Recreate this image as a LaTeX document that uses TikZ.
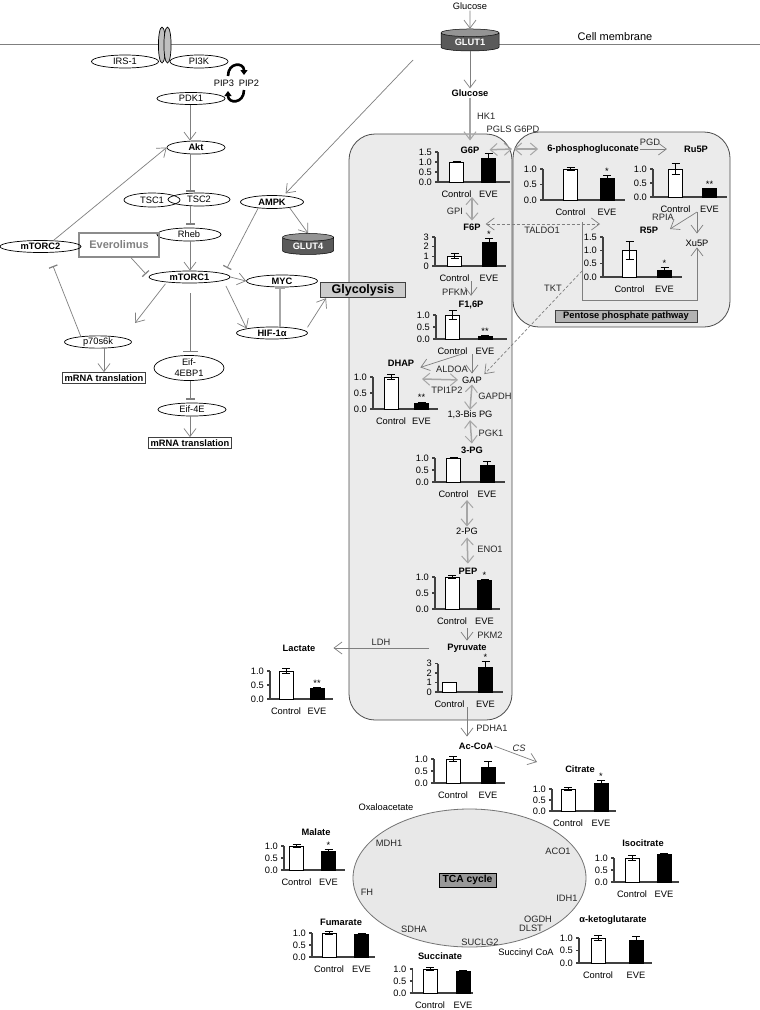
\documentclass[tikz,border=0pt]{standalone}
\usepackage{fontspec}
\setmainfont{Liberation Sans}
\usetikzlibrary{arrows.meta,shapes.geometric}

\definecolor{conn}{HTML}{7F7F7F}
\definecolor{thkc}{HTML}{A6A6A6}
\definecolor{panelc}{HTML}{EBEBEB}
\definecolor{axisc}{HTML}{404040}
\definecolor{glutc}{HTML}{5A5A5A}

\def\tA{0/0.0,0.5/0.5,1/1.0}
\def\tB{0/0.0,0.5/0.5,1/1.0,1.5/1.5}
\def\tC{0/0,1/1,2/2,3/3}

% bar chart: name, origin, axis length, px per unit, top, ticks, control x/v/e, EVE x/v/e, stars
\newcommand{\metchart}[9]{%
  \begin{scope}[shift={(#2)}]
    \draw[axisln] (0,{-#5*#4}) -- (0,0) -- (#3,0);
    \foreach \v/\t [count=\i] in #6 {
      \draw[axisln] (-3,{-\v*#4}) -- (0,{-\v*#4});
      \node[ticklab] (#1-t\i) at (-6,{-\v*#4}) {\t};
    }
    \foreach \x/\v/\e in {#7} {
      \draw[cbar] ({\x-7},0) rectangle ({\x+7},{-\v*#4});
      \draw[errbar] (\x,{-(\v-\e)*#4}) -- (\x,{-(\v+\e)*#4})
        ({\x-4},{-(\v+\e)*#4}) -- ({\x+4},{-(\v+\e)*#4})
        ({\x-4},{-(\v-\e)*#4}) -- ({\x+4},{-(\v-\e)*#4});
      \node[xlab] (#1-c) at (\x,15) {Control};
    }
    \foreach \x/\v/\e in {#8} {
      \draw[ebar] ({\x-7},0) rectangle ({\x+7},{-\v*#4});
      \draw[errbar] (\x,{-(\v-\e)*#4}) -- (\x,{-(\v+\e)*#4})
        ({\x-4},{-(\v+\e)*#4}) -- ({\x+4},{-(\v+\e)*#4});
      \node[xlab] (#1-e) at (\x,15) {EVE};
      \node[starlab] (#1-s) at (\x,{-(\v+\e)*#4-1}) {#9};
    }
  \end{scope}}

\begin{document}
\begin{tikzpicture}[x=1pt,y=-1pt,
  every node/.style={font=\fontsize{9.3}{11}\selectfont, inner sep=1pt},
  ell/.style={ellipse, draw=black, line width=0.7pt, inner sep=0pt, minimum height=13pt},
  ellb/.style={ell, font=\fontsize{9.3}{11}\selectfont\bfseries},
  met/.style={font=\fontsize{9.3}{11}\selectfont\bfseries},
  enz/.style={text=black!85},
  txt/.style={},
  box/.style={draw=black!75, line width=0.9pt, font=\fontsize{9.3}{11}\selectfont\bfseries, inner sep=2pt},
  glut/.style={cylinder, shape border rotate=90, aspect=0.25, draw=black, line width=0.5pt,
    cylinder uses custom fill, cylinder body fill=glutc, cylinder end fill=glutc!65!white,
    text=white, font=\fontsize{9.3}{11}\selectfont\bfseries, inner sep=0pt},
  arr/.style={draw=conn, line width=0.7pt, -{Straight Barb[length=8pt,width=12pt]}},
  inh/.style={draw=conn, line width=0.7pt, -{Bar[width=9pt,line width=1.2pt]}},
  thk/.style={draw=thkc, line width=1.5pt, -{Straight Barb[length=8pt,width=12pt,line width=1pt]}},
  dbl/.style={draw=thkc, line width=1.5pt, {Straight Barb[length=7pt,width=12pt,line width=1pt]}-{Straight Barb[length=7pt,width=12pt,line width=1pt]}},
  dsh/.style={draw=conn, line width=0.7pt, dash pattern=on 3pt off 2pt},
  pan/.style={draw=black!70, fill=panelc, line width=0.8pt, rounded corners=26pt},
  axisln/.style={draw=axisc, line width=1.4pt},
  cbar/.style={draw=black, fill=white, line width=0.9pt},
  ebar/.style={draw=black, fill=black, line width=0.9pt},
  errbar/.style={draw=black, line width=0.9pt},
  ticklab/.style={anchor=east, inner sep=0pt},
  xlab/.style={anchor=base, inner sep=0pt},
  starlab/.style={anchor=base, inner sep=0pt}]

  %%%%% FRAME %%%%%
  \fill[white] (0,0) rectangle (760,1010);
  \useasboundingbox (0,0) rectangle (760,1010);

  \draw[conn, line width=0.9pt] (0,44) -- (760,44);
  \node[font=\fontsize{11}{13}\selectfont] (cellm) at (615,37) {Cell membrane};

  %%%%% PANELS %%%%%
  \draw[pan] (349,134) rectangle (512,720);
  \draw[pan] (513,132) rectangle (730,327);
  \node[ellipse, draw=black!55, fill=black!9, line width=0.8pt, minimum width=233pt, minimum height=138pt] (tca) at (469.5,878) {};

  %%%%% SIGNALLING %%%%%
  \draw[fill=black!25, line width=0.7pt] (162,45) ellipse (3.6pt and 18pt);
  \draw[fill=black!25, line width=0.7pt] (167.5,45) ellipse (3.6pt and 18pt);
  \node[ell, minimum width=67pt] (irs) at (125,61.5) {IRS-1};
  \node[ell, minimum width=58pt] (pi3k) at (199,61.5) {PI3K};
  \node[txt] (pip3) at (224,83) {PIP3};
  \node[txt] (pip2) at (249,83) {PIP2};
  \draw[line width=2.6pt, -{Triangle[length=5pt,width=7pt]}] (228,76) .. controls (228,62) and (244,62) .. (244,75);
  \draw[line width=2.6pt, -{Triangle[length=5pt,width=7pt]}] (244,90) .. controls (244,104) and (228,104) .. (228,91);
  \node[ell, minimum width=68pt, minimum height=12pt] (pdk1) at (191,98.5) {PDK1};
  \node[ellb, minimum width=58pt] (akt) at (196,147.5) {Akt};
  \node[ell, minimum width=56pt, minimum height=14pt] (tsc1) at (152,200) {TSC1};
  \node[ell, minimum width=62pt] (tsc2) at (199,199.5) {TSC2};
  \node[ell, minimum width=64pt] (rheb) at (189,234.5) {Rheb};
  \node[ellb, minimum width=63pt] (ampk) at (272,202) {AMPK};
  \node[glut, minimum width=51pt, minimum height=21pt] (glut4) at (308,246) {GLUT4};
  \node[draw=black!45, line width=1.4pt, text=black!50, font=\fontsize{11}{13}\selectfont\bfseries,
    minimum width=80pt, minimum height=24pt] (evero) at (119,245) {Everolimus};
  \node[ellb, minimum width=81pt, minimum height=12pt] (mtorc2) at (40.5,246.5) {mTORC2};
  \node[ellb, minimum width=81pt, minimum height=12pt] (mtorc1) at (189.5,277) {mTORC1};
  \node[ellb, minimum width=71pt, minimum height=12pt] (myc) at (282,281) {MYC};
  \node[box, fill=black!20, font=\fontsize{12.5}{14}\selectfont\bfseries, minimum width=85pt,
    minimum height=15.5pt, inner sep=0pt] (glyc) at (363,290) {Glycolysis};
  \node[ellb, minimum width=71pt, minimum height=12pt] (hif) at (272,333) {HIF-1α};
  \node[ell, minimum width=67pt, minimum height=11pt] (p70) at (98,342) {p70s6k};
  \node[box] (mrna1) at (104,378) {mRNA translation};
  \node[ell, minimum width=70pt, minimum height=24pt, align=center] (eif4ebp) at (189,368) {Eif-\\4EBP1};
  \node[ell, minimum width=68pt] (eif4e) at (192,409.5) {Eif-4E};
  \node[box] (mrna2) at (190,443) {mRNA translation};

  \coordinate (spine) at (190,0);
  \coordinate (sig) at (413,60);
  \coordinate (ampkT) at (227,268);
  \coordinate (p70T) at (135,323);
  \coordinate (mtorc2T) at (53,266);

  \draw[arr] (pdk1.south -| spine) -- (akt.north -| spine);
  \draw[inh, shorten >=1] (akt.south -| spine) -- (tsc2.north -| spine);
  \draw[inh, shorten >=3] (tsc2.south -| spine) -- (rheb.north -| spine);
  \draw[arr] (rheb.south -| spine) -- (mtorc1.north -| spine);
  \draw[inh, shorten >=4] ([xshift=12]evero.south) -- (mtorc1.west);
  \draw[inh] (ampk.204) -- (ampkT);
  \draw[arr] (ampk.-18) -- (glut4.north);
  \draw[arr] (mtorc1.east) -- (myc.west);
  \draw[arr, shorten <=6] (mtorc1.-6) -- (hif.170);
  \draw[draw=thkc, line width=1.6pt, -{Bar[width=10pt,line width=1.6pt]}] ([xshift=8]hif.north) -- ([xshift=-2]myc.south);
  \draw[arr, shorten <=4] (hif.4) -- ([xshift=6]glyc.south west);
  \draw[arr, shorten <=2] (mtorc1.193) -- (p70T);
  \draw[inh] (p70.162) -- (mtorc2T);
  \draw[arr] (mrna1.north |- p70.south) -- (mrna1.north);
  \draw[draw=conn, line width=0.7pt, -{Bar[width=15pt,line width=1.4pt]}, shorten <=10, shorten >=3] (mtorc1.south -| spine) -- (eif4ebp.north -| spine);
  \draw[inh, shorten >=3] (eif4ebp.south -| spine) -- (eif4e.north -| spine);
  \draw[arr] (eif4e.south -| spine) -- (mrna2.north -| spine);
  \draw[arr] (mtorc2.25) -- (akt.west);
  \draw[arr, shorten >=3] (sig) -- (ampk.29);

  %%%%% GLUCOSE ENTRY %%%%%
  \node[txt] (glcout) at (470,6) {Glucose};
  \node[glut, minimum width=58pt, minimum height=22pt] (glut1) at (470,42) {GLUT1};
  \node[met] (glc) at (470,93) {Glucose};
  \draw[arr] (glcout.south) -- (glut1.north);
  \draw[arr] (glut1.south) -- (glc.north);
  \node[enz, anchor=west] (hk1) at (476,116) {HK1};

  %%%%% GLYCOLYSIS %%%%%
  \node[met] (g6p) at (470,150) {G6P};
  \draw[thk, shorten >=5] (glc.south) -- (g6p.north);
  \metchart{g6pc}{438,182}{72}{20}{1.5}{\tB}{18.5/1.0/0.03}{50.5/1.17/0.27}{}
  \node[enz] (gpi) at (455,211) {GPI};
  \node[met] (f6p) at (472,227) {F6P};
  \draw[dbl, shorten >=2] (f6p.north |- g6pc-e.base) -- (f6p.north);
  \metchart{f6pc}{435,266}{71}{9.7}{3}{\tC}{19.5/1.0/0.25}{54/2.4/0.45}{*}
  \node[enz] (pfkm) at (455,292) {PFKM};
  \node[met] (f16p) at (471,305) {F1,6P};
  \draw[arr, shorten >=4] (f16p.north |- f6pc-e.base) -- (f16p.north);
  \metchart{f16pc}{436,339}{71}{24}{1}{\tA}{16.5/1.0/0.2}{49/0.1/0.03}{**}
  \node[txt] (gap) at (472,380) {GAP};
  \node[enz] (aldoa) at (452,369) {ALDOA};
  \node[met] (dhap) at (401,363) {DHAP};
  \draw[arr, shorten >=2] (gap.north |- f16pc-e.base) -- (gap.north);
  \draw[arr] ([xshift=-10]gap.north |- f16pc-e.base) -- ([xshift=5]dhap.south east);
  \metchart{dhapc}{373,409}{65}{32}{1}{\tA}{18/1.0/0.07}{48.5/0.17/0.05}{**}
  \coordinate (tpiA) at (422,379);
  \draw[dbl, shorten >=3] (tpiA) -- (gap.west);
  \node[enz] (tpi) at (447,390) {TPI1P2};
  \node[txt] (bpg) at (470,415) {1,3-Bis PG};
  \draw[dbl] (gap.south) -- (bpg.north);
  \node[enz] (gapdh) at (495,396) {GAPDH};
  \node[met] (pg3) at (472,450) {3-PG};
  \draw[dbl, shorten >=2] (bpg.south) -- (pg3.north);
  \node[enz] (pgk1) at (491,433) {PGK1};
  \metchart{pg3c}{435,482}{70}{24}{1}{\tA}{18.5/1.0/0.03}{52/0.7/0.17}{}
  \node[txt] (pg2) at (467,531) {2-PG};
  \draw[dbl, shorten <=3] (pg2.north |- pg3c-e.base) -- (pg2.north);
  \node[met] (pep) at (468,571) {PEP};
  \draw[dbl, shorten <=2, shorten >=3] (pg2.south) -- (pep.north);
  \node[enz] (eno1) at (490,549) {ENO1};
  \metchart{pepc}{435,609}{65}{32}{1}{\tA}{17/1.0/0.05}{49.5/0.88/0.03}{*}
  \node[enz] (pkm2) at (490,635) {PKM2};
  \node[met] (pyr) at (467,648) {Pyruvate};
  \draw[arr, shorten <=4, shorten >=2] (pyr.north |- pepc-e.base) -- (pyr.north);
  \metchart{pyrc}{438,692}{65}{9.5}{3}{\tC}{11.5/1.0/0.03}{47.5/2.6/0.6}{*}
  \node[met] (lac) at (299,648) {Lactate};
  \node[enz] (ldh) at (381,642) {LDH};
  \draw[arr, shorten <=17, shorten >=17] (pyr.west) -- (lac.east);
  \metchart{lacc}{270,699}{63}{28}{1}{\tA}{16/1.0/0.1}{47/0.38/0.03}{**}

  %%%%% PENTOSE PHOSPHATE %%%%%
  \coordinate (pinch) at (513,149);
  \node[enz] (pgls) at (513,129) {PGLS G6PD};
  \node[met] (pg6) at (593,149) {6-phosphogluconate};
  \draw[dbl, shorten <=9, shorten >=1] (g6p.east) -- (pinch);
  \draw[dbl, shorten <=1, shorten >=8] (pinch) -- (pg6.west);
  \node[met] (ru5p) at (696,149) {Ru5P};
  \node[enz] (pgd) at (650,142) {PGD};
  \draw[arr, shorten >=16] (pg6.east) -- (ru5p.west);
  \metchart{pg6c}{543,200}{82}{31}{1}{\tA}{27.5/1.0/0.05}{64/0.71/0.08}{*}
  \metchart{ru5pc}{653,197}{74}{28}{1}{\tA}{22.5/1.0/0.2}{56.5/0.3/0.01}{**}
  \coordinate (ru5pout) at (697,212);
  \coordinate (rpiaT) at (670,229);
  \node[met] (r5p) at (649,230) {R5P};
  \node[txt] (xu5p) at (697,243) {Xu5P};
  \node[enz] (rpia) at (663,217) {RPIA};
  \draw[arr] (ru5pout) -- (rpiaT);
  \draw[arr, shorten >=5] (ru5pout) -- (xu5p.north);
  \metchart{r5pc}{603,277}{79}{26.7}{1.5}{\tB}{26.5/1.0/0.35}{61.5/0.25/0.1}{*}
  \coordinate (brTop) at (582,222);
  \coordinate (brBot) at (582,300);
  \coordinate (taldoT) at (600,224);
  \coordinate (tktS) at (582,271);
  \draw[arr] (brTop) -- (brBot) -| (xu5p.south);
  \draw[dsh, {Straight Barb[length=8pt,width=12pt]}-{Straight Barb[length=8pt,width=12pt]}, shorten <=4] (f6p.east |- taldoT) -- (taldoT);
  \node[enz] (taldo) at (542,230) {TALDO1};
  \draw[dsh, -{Straight Barb[length=8pt,width=12pt]}, shorten >=2] (tktS) -- (gap.north east);
  \node[enz] (tkt) at (553,288) {TKT};
  \node[box, fill=black!30, minimum width=142pt, minimum height=12pt, inner sep=0pt] (ppp) at (626,316.5) {Pentose phosphate pathway};

  %%%%% TCA CYCLE %%%%%
  \node[met] (acoa) at (476,746) {Ac-CoA};
  \node[enz] (pdha1) at (492,728) {PDHA1};
  \draw[arr, shorten >=5] (pyrc-e.base -| pyr.south) -- (acoa.north -| pyr.south);
  \metchart{acoac}{434,783}{71}{24}{1}{\tA}{19/1.0/0.1}{54/0.63/0.25}{}
  \node[met] (cit) at (580,769) {Citrate};
  \coordinate (csT) at (537,762);
  \draw[arr] (acoa.east) -- (csT);
  \node[enz, font=\fontsize{9.3}{11}\selectfont\itshape] (cs) at (519,748) {CS};
  \metchart{citc}{552,811}{64}{22}{1}{\tA}{16/1.0/0.07}{49/1.27/0.1}{*}

  \node[box, fill=black!40, draw=black, font=\fontsize{10.3}{12}\selectfont\bfseries, minimum width=57pt,
    minimum height=14pt, inner sep=0pt] (tcab) at (467.5,880) {TCA cycle};
  \node[txt] (oaa) at (386,807) {Oxaloacetate};
  \node[txt] (succoa) at (526,953) {Succinyl CoA};
  \node[enz] (mdh1) at (389,843) {MDH1};
  \node[enz] (aco1) at (558,851) {ACO1};
  \node[enz] (fh) at (367,892) {FH};
  \node[enz] (idh1) at (567,898) {IDH1};
  \node[enz] (sdha) at (414,929) {SDHA};
  \node[enz] (ogdh) at (538,919) {OGDH};
  \node[enz] (dlst) at (531,928) {DLST};
  \node[enz] (suclg2) at (480,942) {SUCLG2};

  \node[met] (mal) at (316,832) {Malate};
  \metchart{malc}{284,870}{61}{24}{1}{\tA}{12.5/1.0/0.05}{44.5/0.79/0.06}{*}
  \node[met] (icit) at (643,843) {Isocitrate};
  \metchart{icitc}{614,882}{65}{24}{1}{\tA}{18/1.0/0.1}{50/1.14/0.03}{}
  \node[met] (fum) at (341,922) {Fumarate};
  \metchart{fumc}{312,957}{63}{24}{1}{\tA}{17/1.0/0.05}{49.5/0.96/0.02}{}
  \node[met] (succ) at (440,956) {Succinate};
  \metchart{succc}{412.5,993}{60}{24}{1}{\tA}{17.5/1.0/0.06}{50.5/0.91/0.04}{}
  \node[met] (akg) at (613,920) {α-ketoglutarate};
  \metchart{akgc}{579,963}{73}{25}{1}{\tA}{19/1.0/0.1}{57/0.92/0.13}{}

\end{tikzpicture}
\end{document}
